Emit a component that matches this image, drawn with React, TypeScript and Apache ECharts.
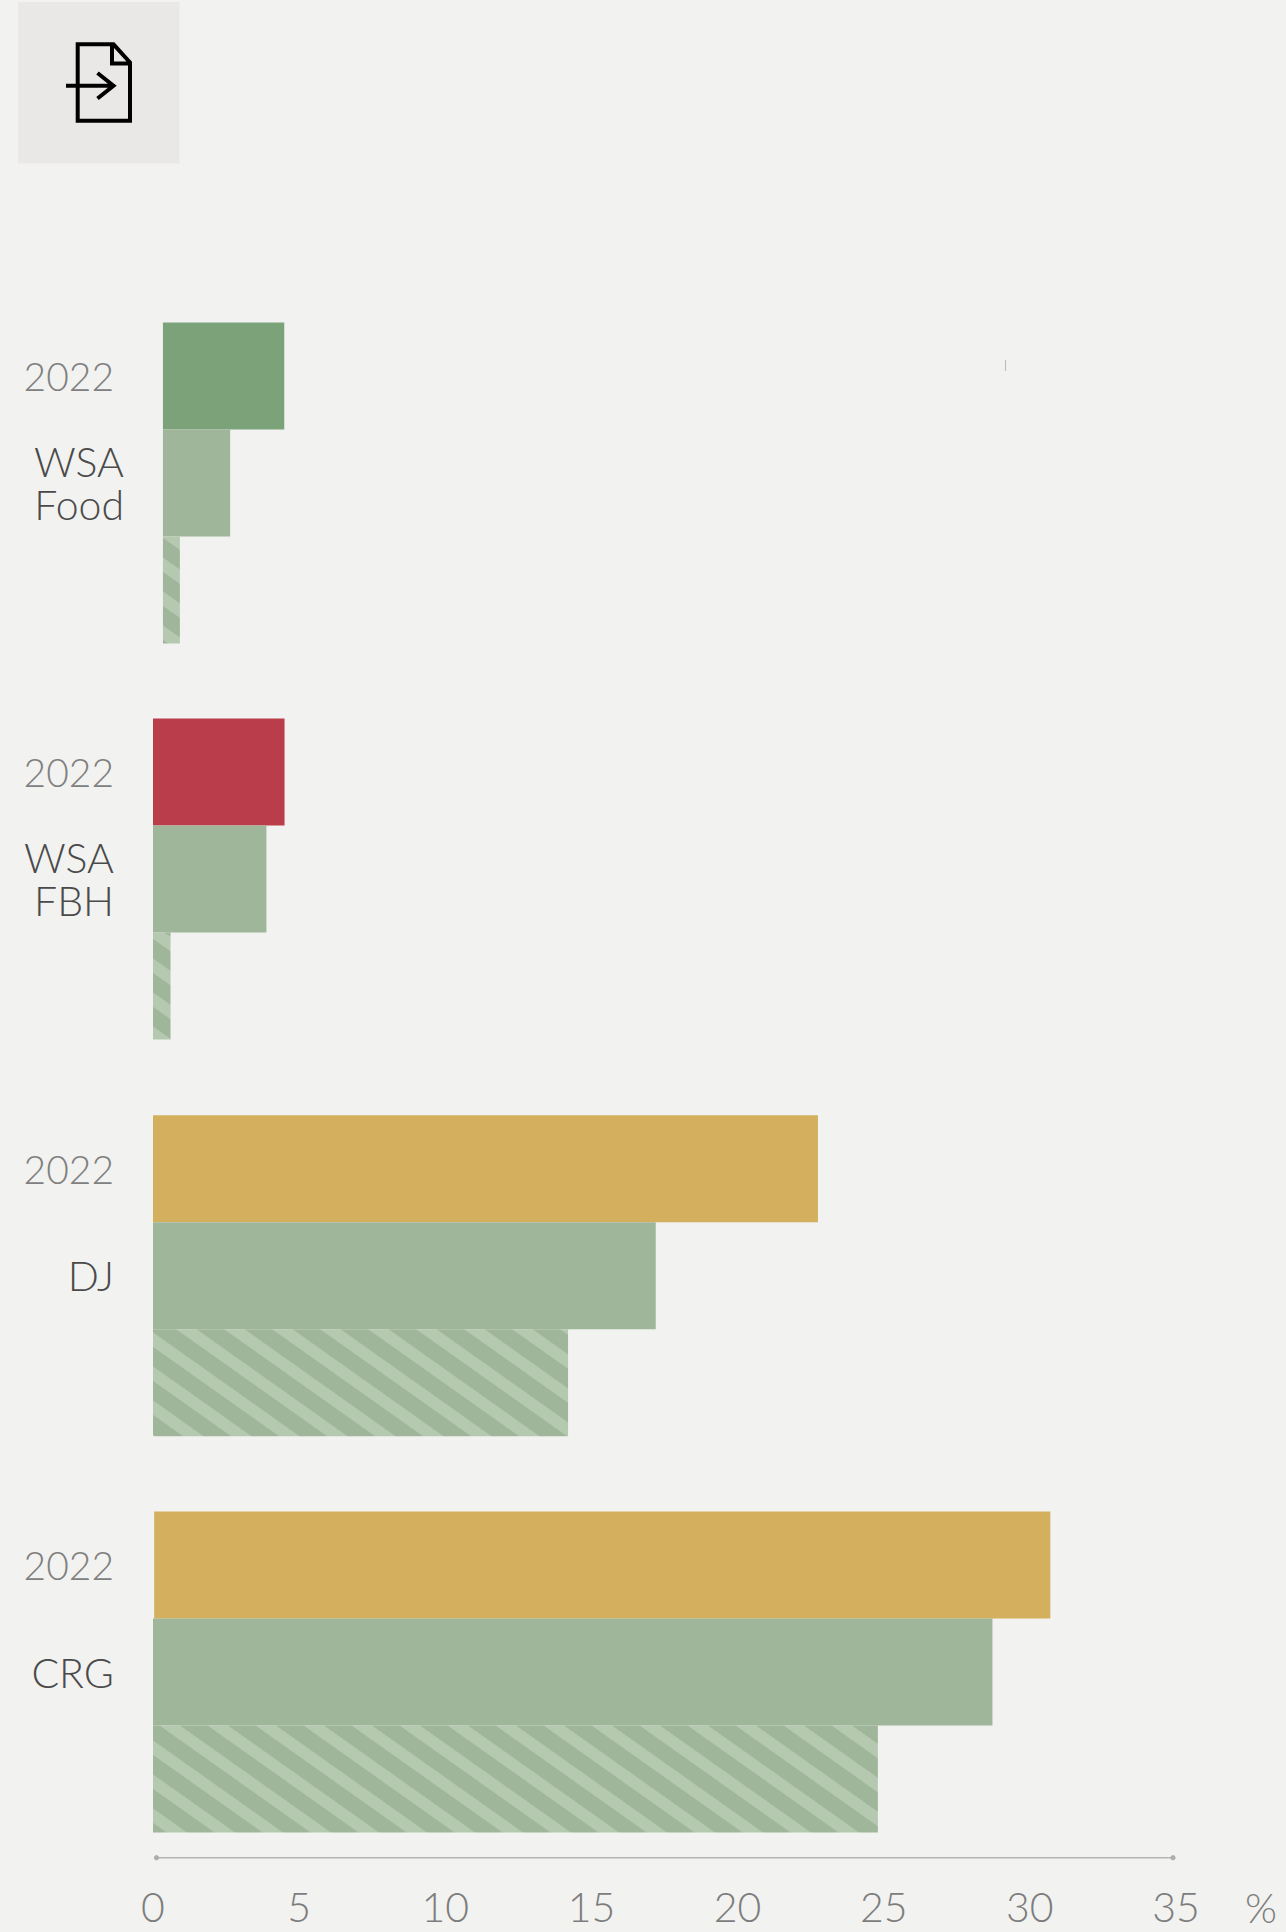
import React, { useEffect, useRef } from "react";
import * as echarts from "echarts";

const groupNames = ["WSA\nFood", "WSA\nFBH", "DJ", "CRG"];
const yearLabel = "2022";
const values2022 = [4.15, 4.5, 22.75, 30.66];
const valuesLight = [2.3, 3.88, 17.2, 28.72];
const valuesHatched = [0.58, 0.6, 14.2, 24.8];
const rowOffsets = [
  [0.34, 0.34, 0.34],
  [0, 0, 0],
  [0, 0, 0],
  [0.04, 0, 0],
];
const topColors = ["#7ca279", "#b93d4a", "#d4af5d", "#d4af5d"];
const axisTicks = [0, 5, 10, 15, 20, 25, 30, 35];

const FONT = "Lato";
const LIGHT = "#a0b69a";
const STRIPE = "#b4c9b0";
const tops = [322.5, 718.5, 1115.3, 1511.6];
const hatchPhase = [
  [163, 566.7],
  [153, 963],
  [153, 1336.7],
  [153, 1747.3],
];
const labelMargin = [29, 39, 39, 39];
const yearPadRight = [10, 0, 0, 0];

function makeTile() {
  const w = 48, h = 34, band = 14.5;
  const c = document.createElement("canvas");
  c.width = w;
  c.height = h;
  const g = c.getContext("2d")!;
  g.fillStyle = LIGHT;
  g.fillRect(0, 0, w, h);
  g.fillStyle = STRIPE;
  for (let k = -3; k <= 3; k++) {
    g.beginPath();
    g.moveTo(0, k * h);
    g.lineTo(w, k * h + h);
    g.lineTo(w, k * h + h + band);
    g.lineTo(0, k * h + band);
    g.closePath();
    g.fill();
  }
  return c;
}

const ICON =
  "M77.7 44.3H113.5L130 62.5V120.7H77.7Z M112 44V63.5H130 M66 85.7H113 M97.5 73L113.5 85.7L97.5 98.5";

export default function App() {
  const ref = useRef<HTMLDivElement>(null);
  useEffect(() => {
    const chart = echarts.init(ref.current!, undefined, { renderer: "svg" });
    echarts.graphic.registerShape("docIcon", echarts.graphic.extendPath(ICON, {}) as any);
    const tile = makeTile();
    const grid = tops.map((t) => ({ left: 153, width: 1023, top: t, height: 321 }));
    const xAxis = tops.map((_, i) => ({
      type: "value",
      gridIndex: i,
      min: 0,
      max: 35,
      interval: 5,
      splitLine: { show: false },
      axisTick: { show: false },
      axisLine: { show: false },
      axisLabel:
        i === 3
          ? {
              show: true,
              margin: 53,
              fontFamily: FONT,
              fontWeight: 300,
              fontSize: 41,
              color: "#7d7d7d",
              customValues: axisTicks,
            }
          : { show: false },
    }));
    const yAxis = tops.map((_, i) => ({
      type: "category",
      gridIndex: i,
      inverse: true,
      axisLine: { show: false },
      axisTick: { show: false },
      axisLabel: {
        margin: labelMargin[i],
        interval: 0,
        fontFamily: FONT,
        fontWeight: 300,
        fontSize: 41,
        lineHeight: 43,
        align: "right",
      },
      data: [
        { value: yearLabel, textStyle: { color: "#808080", fontSize: 39, padding: [0, yearPadRight[i], 0, 0] } },
        { value: groupNames[i], textStyle: { color: "#4a4a4a" } },
        { value: "", textStyle: { color: "#4a4a4a" } },
      ],
    }));
    const series: any[] = [];
    tops.forEach((_, i) => {
      series.push({
        type: "bar",
        xAxisIndex: i,
        yAxisIndex: i,
        stack: "g" + i,
        barCategoryGap: 0,
        silent: true,
        itemStyle: { color: "transparent" },
        data: rowOffsets[i],
      });
      series.push({
        type: "bar",
        xAxisIndex: i,
        yAxisIndex: i,
        stack: "g" + i,
        barCategoryGap: 0,
        data: [
          { value: values2022[i], itemStyle: { color: topColors[i] } },
          { value: valuesLight[i], itemStyle: { color: LIGHT } },
          {
            value: valuesHatched[i],
            itemStyle: {
              color: {
                image: tile,
                repeat: "repeat",
                x: hatchPhase[i][0],
                y: hatchPhase[i][1],
              },
            },
          },
        ],
      });
    });
    chart.setOption({
      animation: false,
      backgroundColor: "#f2f2f0",
      grid,
      xAxis,
      yAxis,
      series,
      graphic: [
        { type: "rect", shape: { x: 18, y: 2, width: 161.5, height: 161.5 }, style: { fill: "#e9e8e6" } },
        {
          type: "docIcon",
          style: { fill: "none", stroke: "#000", lineWidth: 4, lineJoin: "miter" },
        },
        { type: "line", shape: { x1: 1005.5, y1: 360, x2: 1005.5, y2: 371 }, style: { stroke: "#bbbbbb", lineWidth: 1 } },
        { type: "line", shape: { x1: 156.5, y1: 1857.7, x2: 1173, y2: 1857.7 }, style: { stroke: "#b8b6b3", lineWidth: 1.5 } },
        { type: "circle", shape: { cx: 156.5, cy: 1857.7, r: 2.6 }, style: { fill: "#b0aeab" } },
        { type: "circle", shape: { cx: 1173, cy: 1857.7, r: 2.6 }, style: { fill: "#b0aeab" } },
        {
          type: "text",
          x: 1261,
          y: 1907,
          style: {
            text: "%",
            fontFamily: FONT,
            fontWeight: 300,
            fontSize: 41,
            fill: "#7d7d7d",
            align: "center",
            verticalAlign: "middle",
          },
        },
      ],
    });
    return () => chart.dispose();
  }, []);
  return (
    <div
      ref={ref}
      style={{ position: "absolute", left: 0, top: 0, width: 1286, height: 1932 }}
    />
  );
}
